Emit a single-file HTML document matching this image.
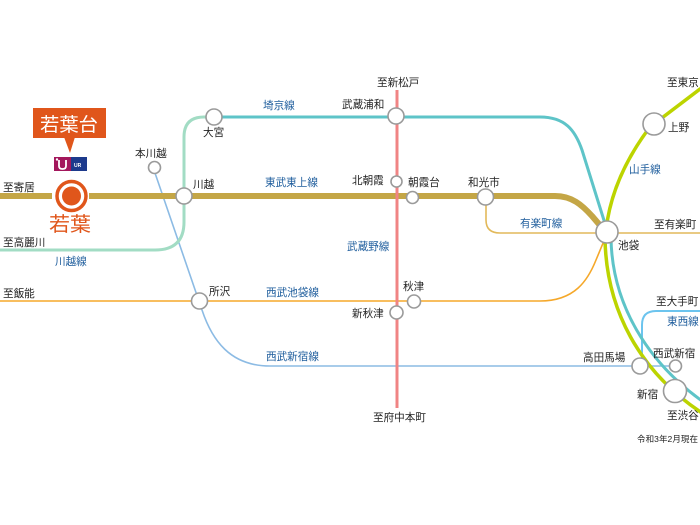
<!DOCTYPE html>
<html><head><meta charset="utf-8"><style>
html,body{margin:0;padding:0;background:#fff;}
svg{display:block;}
text{font-family:"Liberation Sans","Noto Sans CJK JP",sans-serif;font-size:10.6px;fill:#222;}
.b{fill:#1d5c9c;}
</style></head><body>
<svg width="700" height="525" viewBox="0 0 700 525" xmlns="http://www.w3.org/2000/svg">
<rect width="700" height="525" fill="#fff"/>
<g fill="none" stroke-linecap="round" stroke-linejoin="round">
<path d="M155,173 L202,310 C212,340 230,366 270,366 L675,366" stroke="#8cbbe4" stroke-width="1.6"/>
<path d="M0,301 L540,301 C575,301 588,280 596,260 L606,236" stroke="#f5a82a" stroke-width="1.6"/>
<path d="M486,196 L486,220 Q486,233 500,233 L700,233" stroke="#e2b95a" stroke-width="1.6"/>
<path d="M642,358 L642,325 Q642,311 656,311 L700,311" stroke="#6cc4ee" stroke-width="2"/>
<path d="M0,250 L155,250 Q184,250 184,222 L184,137 Q184,117 204,117 L213,117" stroke="#a2dcc4" stroke-width="3"/>
<path d="M213,117 L540,117 C565,117 575,130 582,150 L607,230" stroke="#5ec4c8" stroke-width="3"/>
<path d="M611,238 C612,305 648,362 702,401" stroke="#5ec4c8" stroke-width="3"/>
<path d="M700,89 L650,127 C625,160 610,195 606,230" stroke="#bcd400" stroke-width="3.5"/>
<path d="M605,238 C606,310 640,372 702,413" stroke="#bcd400" stroke-width="3.5"/>
<path d="M0,196 L52,196" stroke="#c4a646" stroke-width="6" stroke-linecap="butt"/>
<path d="M89,196 L555,196 C572,196 582,205 592,216 L604,230" stroke="#c4a646" stroke-width="6" stroke-linecap="butt"/>
<path d="M397,90 L397,408" stroke="#f08484" stroke-width="3" stroke-linecap="butt"/>
</g>
<g fill="#fff" stroke="#9a9a9a" stroke-width="1.6">
<circle cx="214" cy="117" r="8"/>
<circle cx="154.5" cy="167.5" r="6"/>
<circle cx="184" cy="196" r="8"/>
<circle cx="396" cy="116" r="8"/>
<circle cx="396.5" cy="181.5" r="5.5"/>
<circle cx="412.5" cy="197.5" r="6"/>
<circle cx="485.5" cy="197" r="8"/>
<circle cx="607" cy="232" r="11"/>
<circle cx="654" cy="124" r="11"/>
<circle cx="199.5" cy="301" r="8"/>
<circle cx="414" cy="301.5" r="6.5"/>
<circle cx="396.5" cy="312.5" r="6.5"/>
<circle cx="640" cy="366" r="8"/>
<circle cx="675.5" cy="366" r="6"/>
<circle cx="675" cy="391" r="11.5"/>
</g>
<circle cx="71.5" cy="196" r="14.5" fill="#fff" stroke="#e0561b" stroke-width="3.5"/>
<circle cx="71.5" cy="196" r="9.5" fill="#e0561b"/>
<text x="49" y="231" style="font-size:20px;fill:#e0561b;" textLength="42" lengthAdjust="spacingAndGlyphs">若葉</text>
<rect x="33" y="108" width="73" height="30" fill="#e0561b"/>
<polygon points="64,137 75,137 70,153" fill="#e0561b"/>
<text x="40" y="131" style="font-size:19px;fill:#fff;" textLength="58" lengthAdjust="spacingAndGlyphs">若葉台</text>
<rect x="54" y="157" width="17" height="14" fill="#a3175c"/>
<rect x="71" y="157" width="16" height="14" fill="#1d3a8c"/>
<path d="M59,160 L59,166 Q59,169 62.5,169 Q66,169 66,166 L66,160" fill="none" stroke="#fff" stroke-width="1.8"/>
<circle cx="57" cy="159.5" r="1.2" fill="#fff"/>
<text x="74" y="167" style="font-size:5px;fill:#fff;font-weight:bold;">UR</text>
<text x="3" y="191">至寄居</text>
<text x="3" y="246">至高麗川</text>
<text class="b" x="55" y="265">川越線</text>
<text x="203" y="136">大宮</text>
<text x="135" y="157">本川越</text>
<text x="193" y="188">川越</text>
<text x="377" y="86">至新松戸</text>
<text x="342" y="108">武蔵浦和</text>
<text class="b" x="263" y="109">埼京線</text>
<text class="b" x="265" y="186">東武東上線</text>
<text x="352" y="184">北朝霞</text>
<text x="408" y="186">朝霞台</text>
<text x="468" y="186">和光市</text>
<text class="b" x="629" y="173">山手線</text>
<text x="668" y="131">上野</text>
<text x="667" y="86">至東京</text>
<text class="b" x="520" y="227">有楽町線</text>
<text x="654" y="228">至有楽町</text>
<text x="618" y="249">池袋</text>
<text x="3" y="297">至飯能</text>
<text x="209" y="295">所沢</text>
<text class="b" x="347" y="250">武蔵野線</text>
<text class="b" x="266" y="296">西武池袋線</text>
<text x="403" y="290">秋津</text>
<text x="352" y="317">新秋津</text>
<text class="b" x="266" y="360">西武新宿線</text>
<text x="373" y="421">至府中本町</text>
<text x="656" y="305">至大手町</text>
<text class="b" x="667" y="325">東西線</text>
<text x="583" y="361">高田馬場</text>
<text x="653" y="357">西武新宿</text>
<text x="637" y="398">新宿</text>
<text x="667" y="419">至渋谷</text>
<text x="637" y="442" style="font-size:8.5px;" textLength="61">令和3年2月現在</text>
</svg>
</body></html>
